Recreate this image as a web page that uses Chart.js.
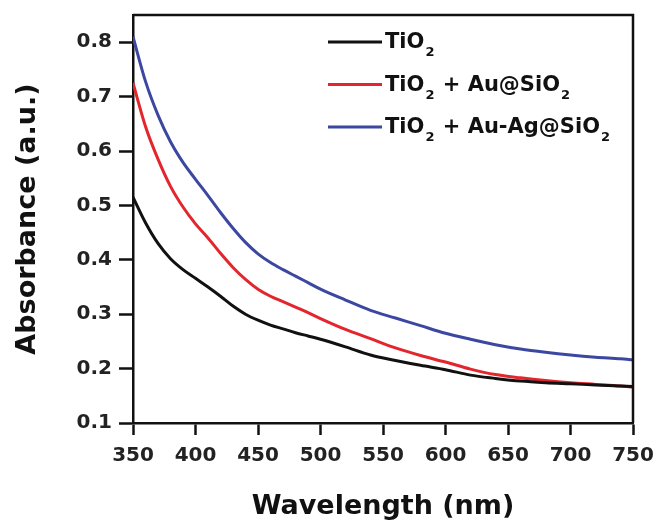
<!DOCTYPE html>
<html>
<head>
<meta charset="utf-8">
<script src="https://cdn.jsdelivr.net/npm/chart.js@4"></script>
<style>
  html, body { margin: 0; padding: 0; background: #fff; }
  #wrap { width: 658px; height: 523px; }
</style>
</head>
<body>
<div id="wrap"><canvas id="absChart"></canvas></div>
<script>
const wavelength = [350, 360, 370, 380, 390, 400, 410, 420, 430, 440, 450, 460, 470, 480, 490, 500,
    520, 540, 560, 580, 600, 620, 640, 660, 680, 700, 720, 740, 750];

const tio2 = [0.515, 0.468, 0.43, 0.402, 0.382, 0.366, 0.35, 0.333, 0.315, 0.3, 0.289, 0.28, 0.273, 0.266, 0.26, 0.254,
    0.24, 0.225, 0.215, 0.206, 0.198, 0.188, 0.182, 0.177, 0.174, 0.172, 0.170, 0.168, 0.167];

const tio2Au = [0.725, 0.645, 0.585, 0.535, 0.497, 0.466, 0.44, 0.412, 0.386, 0.364, 0.346, 0.333, 0.323, 0.313, 0.303, 0.292,
    0.272, 0.255, 0.238, 0.224, 0.212, 0.199, 0.189, 0.183, 0.178, 0.174, 0.171, 0.168, 0.166];

const tio2AuAg = [0.81, 0.728, 0.666, 0.617, 0.579, 0.548, 0.518, 0.487, 0.458, 0.432, 0.411, 0.395, 0.382, 0.37, 0.358, 0.346,
    0.326, 0.307, 0.293, 0.279, 0.265, 0.254, 0.244, 0.236, 0.230, 0.225, 0.221, 0.218, 0.216];

const seriesLabels = ["TiO₂", "TiO₂ + Au@SiO₂", "TiO₂ + Au-Ag@SiO₂"];
const xTicks = [350, 400, 450, 500, 550, 600, 650, 700, 750];
const yTicks = [0.1, 0.2, 0.3, 0.4, 0.5, 0.6, 0.7, 0.8];

const FONT = "'DejaVu Sans', sans-serif";

function points(values) {
    return wavelength.map((w, i) => ({ x: w, y: values[i] }));
}

// top + right frame and the in-plot legend
const framePlugin = {
    id: "frame",
    afterDraw(chart) {
        const { ctx, chartArea: a } = chart;
        ctx.save();
        ctx.strokeStyle = "#111";
        ctx.lineWidth = 2.5;
        ctx.beginPath();
        ctx.moveTo(a.left, a.top);
        ctx.lineTo(a.right, a.top);
        ctx.lineTo(a.right, a.bottom);
        ctx.stroke();

        // legend
        const x0 = a.left + 195;
        let y = a.top + 27;
        chart.data.datasets.forEach(ds => {
            ctx.strokeStyle = ds.borderColor;
            ctx.lineWidth = 3;
            ctx.beginPath();
            ctx.moveTo(x0, y);
            ctx.lineTo(x0 + 54, y);
            ctx.stroke();

            let tx = x0 + 57;
            ctx.fillStyle = "#111";
            ctx.textBaseline = "middle";
            ds.label.split("₂").forEach((part, i, arr) => {
                ctx.font = "bold 21px " + FONT;
                ctx.fillText(part, tx, y + 1);
                tx += ctx.measureText(part).width;
                if (i < arr.length - 1) {
                    ctx.font = "bold 13px " + FONT;
                    ctx.fillText("2", tx + 1, y + 11);
                    tx += ctx.measureText("2").width + 2;
                }
            });
            y += 42.5;
        });
        ctx.restore();
    }
};

const colors = ["#111111", "#e3262e", "#3b47a0"];

new Chart(document.getElementById("absChart"), {
    type: "line",
    data: {
        datasets: [tio2, tio2Au, tio2AuAg].map((vals, i) => ({
            label: seriesLabels[i],
            data: points(vals),
            borderColor: colors[i],
            borderWidth: 3,
            pointRadius: 0,
            cubicInterpolationMode: "monotone",
            fill: false
        }))
    },
    options: {
        responsive: true,
        maintainAspectRatio: false,
        animation: false,
        events: [],
        layout: { padding: { top: 15, right: 25, left: 0, bottom: 0 } },
        plugins: { legend: { display: false }, tooltip: { enabled: false } },
        scales: {
            x: {
                type: "linear",
                min: 350,
                max: 750,
                afterFit: s => { s.height = 100; s.paddingLeft = 0; s.paddingRight = 0; },
                afterBuildTicks: s => { s.ticks = xTicks.map(v => ({ value: v })); },
                border: { display: true, color: "#111", width: 2.5 },
                grid: { drawOnChartArea: false, drawTicks: true, tickLength: 12, tickColor: "#111", tickWidth: 2.5 },
                ticks: { color: "#222", font: { family: FONT, size: 20, weight: "bold" }, padding: 9, maxRotation: 0 },
                title: { display: true, text: "Wavelength (nm)", color: "#111",
                    font: { family: FONT, size: 27, weight: "bold" }, padding: { top: 0, bottom: 0 } }
            },
            y: {
                min: 0.1,
                max: 0.85,
                afterFit: s => { s.width = 133; s.paddingTop = 0; s.paddingBottom = 0; },
                afterBuildTicks: s => { s.ticks = yTicks.map(v => ({ value: v })); },
                border: { display: true, color: "#111", width: 2.5 },
                grid: { drawOnChartArea: false, drawTicks: true, tickLength: 14, tickColor: "#111", tickWidth: 2.5 },
                ticks: { color: "#222", font: { family: FONT, size: 20, weight: "bold" }, padding: 7,
                    callback: v => v.toFixed(1) },
                title: { display: true, text: "Absorbance (a.u.)", color: "#111",
                    font: { family: FONT, size: 27, weight: "bold" }, padding: { top: 12, bottom: 0 } }
            }
        }
    },
    plugins: [framePlugin]
});
</script>
</body>
</html>
